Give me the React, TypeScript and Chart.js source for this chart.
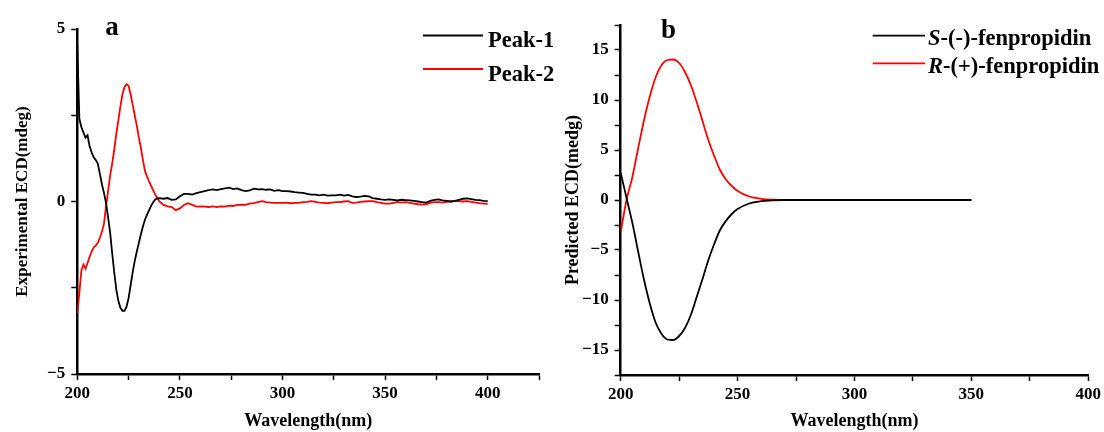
import React, { useEffect, useRef } from "react";
import { Chart, registerables } from "chart.js";

Chart.register(...registerables);

const FONT = '"Liberation Serif", "Times New Roman", Times, serif';

// ---------- Panel a : experimental ECD ----------
const expWavelengths = [
  200, 201, 202, 203, 204, 205, 206, 207, 208, 209, 210, 211, 212, 213, 214, 215, 216, 217, 218, 219,
  220, 221, 222, 223, 224, 225, 226, 227, 228, 229, 230, 231, 232, 233, 234, 235, 236, 237, 238, 239,
  240, 242, 244, 246, 248, 250, 252, 254, 256, 258, 260, 262, 264, 266, 268, 270, 272, 274, 276, 278,
  280, 282, 284, 286, 288, 290, 292, 294, 296, 298, 300, 302, 304, 306, 308, 310, 312, 314, 316, 318,
  320, 322, 324, 326, 328, 330, 332, 334, 336, 338, 340, 342, 344, 346, 348, 350, 352, 354, 356, 358,
  360, 362, 364, 366, 368, 370, 372, 374, 376, 378, 380, 382, 384, 386, 388, 390, 392, 394, 396, 398, 400,
];
const peak1 = [
  4.5, 2.4, 2.15, 2.0, 1.85, 1.92, 1.6, 1.42, 1.28, 1.2, 1.1, 0.8, 0.5, 0.25, -0.05, -0.45, -0.9, -1.5, -2.05, -2.55,
  -2.88, -3.08, -3.17, -3.17, -3.05, -2.8, -2.42, -2.05, -1.72, -1.45, -1.2, -0.95, -0.72, -0.52, -0.38, -0.25, -0.12, -0.02, 0.06, 0.09,
  0.1, 0.08, 0.1, 0.05, 0.06, 0.15, 0.22, 0.22, 0.2, 0.24, 0.27, 0.3, 0.33, 0.35, 0.33, 0.36, 0.38, 0.4, 0.36, 0.38,
  0.33, 0.3, 0.32, 0.37, 0.35, 0.36, 0.34, 0.35, 0.31, 0.33, 0.3, 0.3, 0.29, 0.27, 0.26, 0.25, 0.22, 0.2, 0.2, 0.18,
  0.2, 0.17, 0.18, 0.18, 0.2, 0.17, 0.19, 0.15, 0.13, 0.14, 0.16, 0.15, 0.1, 0.08, 0.06, 0.05, 0.06, 0.05, 0.03, 0.05,
  0.04, 0.03, 0.02, 0.0, -0.02, -0.03, 0.02, 0.05, 0.06, 0.03, 0.02, 0.0, 0.02, 0.05, 0.08, 0.09, 0.07, 0.05, 0.04, 0.02, 0.01,
];
const peak2 = [
  -3.23, -2.65, -2.0, -1.83, -1.95, -1.78, -1.6, -1.45, -1.33, -1.28, -1.2, -1.05, -0.88, -0.65, -0.15, 0.3, 0.75, 1.1, 1.5, 1.95,
  2.35, 2.75, 3.1, 3.32, 3.4, 3.35, 3.1, 2.8, 2.5, 2.2, 1.85, 1.55, 1.2, 0.88, 0.72, 0.58, 0.45, 0.32, 0.2, 0.1,
  0.0, -0.1, -0.14, -0.16, -0.25, -0.2, -0.1, -0.05, -0.1, -0.15, -0.14, -0.15, -0.16, -0.14, -0.16, -0.14, -0.15, -0.12, -0.13, -0.1,
  -0.09, -0.1, -0.06, -0.05, -0.02, 0.01, -0.02, -0.03, -0.04, -0.04, -0.04, -0.03, -0.05, -0.04, -0.04, -0.02, -0.01, 0.01, -0.01, -0.03,
  -0.04, -0.05, -0.03, -0.02, -0.02, 0.0, 0.01, -0.04, -0.03, -0.01, 0.0, 0.01, 0.01, -0.02, -0.04, -0.06, -0.06, -0.04, -0.02, -0.03,
  -0.02, -0.04, -0.06, -0.08, -0.09, -0.08, -0.04, -0.02, -0.02, -0.03, -0.01, 0.0, 0.01, 0.01, 0.0, 0.01, -0.01, -0.03, -0.05, -0.06, -0.07,
];

// ---------- Panel b : predicted ECD ----------
const predWavelengths = [
  200, 202.5, 205, 207.5, 210, 212.5, 215, 217.5, 220, 222.5, 225, 227.5, 230, 232.5, 235, 237.5, 240,
  242.5, 245, 247.5, 250, 255, 260, 265, 270, 280, 300, 325, 350,
];
const sFenpropidin = [
  2.7, 0.2, -2.3, -5.2, -8.0, -10.4, -12.3, -13.4, -13.95, -14.0, -13.6, -12.8, -11.5, -9.7, -7.9, -6.0, -4.4,
  -3.0, -2.1, -1.4, -0.9, -0.35, -0.12, -0.03, 0, 0, 0, 0, 0,
];
const rFenpropidin = [
  -3.2, 0.0, 2.3, 5.2, 8.0, 10.4, 12.3, 13.5, 14.0, 14.05, 13.7, 12.8, 11.5, 9.8, 7.9, 6.0, 4.4,
  3.0, 2.05, 1.4, 0.9, 0.35, 0.12, 0.03, 0, 0, 0, 0, 0,
];

const legendA = ["Peak-1", "Peak-2"];
const legendB = [
  ["S", "-(-)-fenpropidin"],
  ["R", "-(+)-fenpropidin"],
];

const tickFont = { family: FONT, size: 17, weight: "bold" as const };

function fmt(v: number) {
  return v < 0 ? "\u2212" + Math.abs(v) : String(v);
}

function xAxis(min: number, max: number, h: number) {
  return {
    type: "linear" as const,
    min,
    max,
    ticks: {
      stepSize: 25,
      autoSkip: false,
      maxRotation: 0,
      padding: 3,
      color: "#000",
      font: tickFont,
      callback: (v: any) => (v % 50 === 0 && v <= 400 ? String(v) : ""),
    },
    grid: { display: true, drawOnChartArea: false, drawTicks: true, tickLength: 6, color: "#000", tickWidth: 1.5 },
    border: { display: true, color: "#000", width: 2.5 },
    title: {
      display: true,
      text: "Wavelength(nm)",
      color: "#000",
      font: { family: FONT, size: 18, weight: "bold" as const },
      padding: { top: 0, bottom: 0 },
    },
    afterFit: (s: any) => {
      s.height = h;
    },
  };
}

function yAxis(min: number, max: number, w: number, title: string, size: number, pt: number) {
  return {
    type: "linear" as const,
    min,
    max,
    ticks: {
      stepSize: 2.5,
      autoSkip: false,
      padding: 6,
      color: "#000",
      font: tickFont,
      callback: (v: any) => (Math.abs(v % 5) < 1e-9 && Math.abs(v) <= 15 ? fmt(v) : ""),
    },
    grid: { display: true, drawOnChartArea: false, drawTicks: true, tickLength: 6, color: "#000", tickWidth: 1.5 },
    border: { display: true, color: "#000", width: 2.5 },
    title: {
      display: true,
      text: title,
      color: "#000",
      font: { family: FONT, size, weight: "bold" as const },
      padding: { top: pt, bottom: 0 },
    },
    afterFit: (s: any) => {
      s.width = w;
    },
  };
}

function overlay(
  letter: string,
  lx: number,
  ly: number,
  legend: { x1: number; x2: number; tx: number; rows: { ly: number; by: number; color: string; parts: [string, boolean][] }[] }
) {
  return {
    id: "overlay",
    afterDraw(chart: any) {
      const ctx = chart.ctx as CanvasRenderingContext2D;
      ctx.save();
      ctx.fillStyle = "#000";
      ctx.textAlign = "center";
      ctx.textBaseline = "alphabetic";
      ctx.font = `bold 27px ${FONT}`;
      ctx.fillText(letter, lx, ly);
      ctx.textAlign = "left";
      for (const r of legend.rows) {
        ctx.strokeStyle = r.color;
        ctx.lineWidth = 1.8;
        ctx.beginPath();
        ctx.moveTo(legend.x1, r.ly);
        ctx.lineTo(legend.x2, r.ly);
        ctx.stroke();
        let x = legend.tx;
        for (const [t, it] of r.parts) {
          ctx.font = `${it ? "italic " : ""}bold 22.5px ${FONT}`;
          ctx.fillText(t, x, r.by);
          x += ctx.measureText(t).width;
        }
      }
      ctx.restore();
    },
  };
}

export default function App() {
  const refA = useRef<HTMLCanvasElement>(null);
  const refB = useRef<HTMLCanvasElement>(null);

  useEffect(() => {
    const chartA = new Chart(refA.current!, {
      type: "line",
      data: {
        datasets: [
          {
            label: legendA[0],
            data: expWavelengths.map((x, i) => ({ x, y: peak1[i] })),
            borderColor: "#000",
            borderWidth: 1.8,
            pointRadius: 0,
            tension: 0,
          },
          {
            label: legendA[1],
            data: expWavelengths.map((x, i) => ({ x, y: peak2[i] })),
            borderColor: "#ff0000",
            borderWidth: 1.8,
            pointRadius: 0,
            tension: 0,
          },
        ],
      },
      options: {
        responsive: false,
        animation: false,
        parsing: false as any,
        layout: { padding: { left: 0, right: 31, top: 29, bottom: 0 } },
        plugins: { legend: { display: false }, tooltip: { enabled: false } },
        scales: {
          x: xAxis(200, 425, 58) as any,
          y: yAxis(-5, 5, 77.3, "Experimental ECD(mdeg)", 17, 12) as any,
        },
      },
      plugins: [
        overlay("a", 112, 35, {
          x1: 423,
          x2: 483,
          tx: 488,
          rows: [
            { ly: 35.5, by: 46.5, color: "#000", parts: [[legendA[0], false]] },
            { ly: 69, by: 81, color: "#ff0000", parts: [[legendA[1], false]] },
          ],
        }),
      ],
    });

    const off = 560;
    const chartB = new Chart(refB.current!, {
      type: "line",
      data: {
        datasets: [
          {
            label: legendB[0].join(""),
            data: predWavelengths.map((x, i) => ({ x, y: sFenpropidin[i] })),
            borderColor: "#000",
            borderWidth: 1.8,
            pointRadius: 0,
            cubicInterpolationMode: "monotone",
          },
          {
            label: legendB[1].join(""),
            data: predWavelengths.map((x, i) => ({ x, y: rFenpropidin[i] })),
            borderColor: "#ff0000",
            borderWidth: 1.8,
            pointRadius: 0,
            cubicInterpolationMode: "monotone",
          },
        ],
      },
      options: {
        responsive: false,
        animation: false,
        parsing: false as any,
        layout: { padding: { left: 0, right: 15.7, top: 25, bottom: 0 } },
        plugins: { legend: { display: false }, tooltip: { enabled: false } },
        scales: {
          x: xAxis(200, 400, 57) as any,
          y: yAxis(-17.5, 17.5, 60.7, "Predicted ECD(medg)", 18, 3) as any,
        },
      },
      plugins: [
        overlay("b", 668.5 - off, 37.5, {
          x1: 872.7 - off,
          x2: 925 - off,
          tx: 928 - off,
          rows: [
            { ly: 35.7, by: 45, color: "#000", parts: [[legendB[0][0], true], [legendB[0][1], false]] },
            { ly: 63.3, by: 73.3, color: "#ff0000", parts: [[legendB[1][0], true], [legendB[1][1], false]] },
          ],
        }),
      ],
    });

    return () => {
      chartA.destroy();
      chartB.destroy();
    };
  }, []);

  return (
    <div style={{ position: "absolute", left: 0, top: 0, width: 1104, height: 432, background: "#fff", overflow: "hidden" }}>
      <canvas ref={refA} width={570} height={432} style={{ position: "absolute", left: 0, top: 0 }} />
      <canvas ref={refB} width={544} height={432} style={{ position: "absolute", left: 560, top: 0 }} />
    </div>
  );
}
